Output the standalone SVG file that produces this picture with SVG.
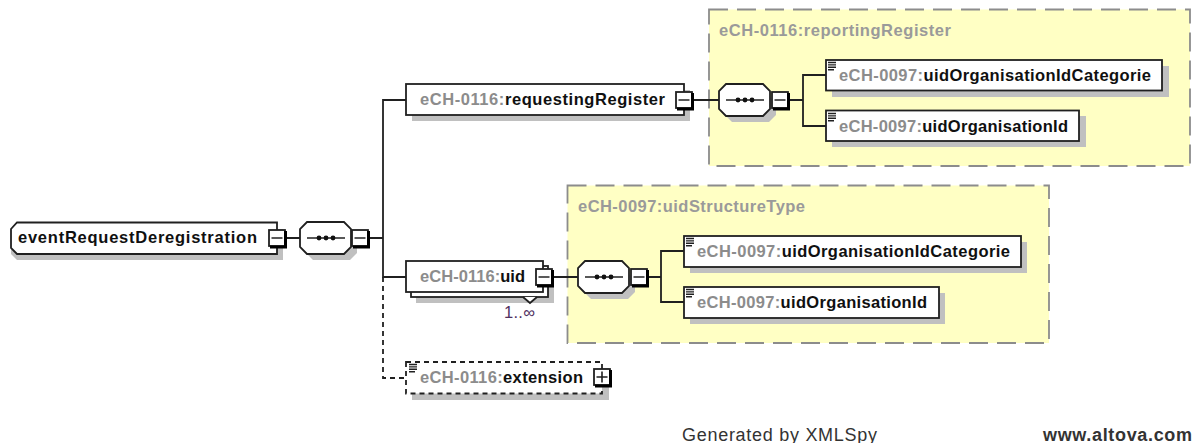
<svg xmlns="http://www.w3.org/2000/svg" width="1197" height="443" viewBox="0 0 1197 443">
<style>
text{font-family:"Liberation Sans",Arial,sans-serif;font-size:16.500px;font-weight:700;fill:#101010}
.ns{fill:#8c8c8c}
.tn{fill:#9a9a9a}
.foot{fill:#333;font-size:18px}
.sh{fill:#c0c0c0}
.n{fill:#fff;stroke:#202020;stroke-width:1.800}
.d{fill:#fff;stroke:#202020;stroke-width:1.800;stroke-dasharray:5 4}
.y{fill:#ffffc4;stroke:#8c8c8c;stroke-width:1.800;stroke-dasharray:19 9}
.c{fill:none;stroke:#202020;stroke-width:1.800}
.cd{fill:none;stroke:#202020;stroke-width:1.800;stroke-dasharray:5 4}
.ln{fill:none;stroke:#202020;stroke-width:1.400}
</style>
<defs>
<g id="minus"><rect x="-1" y="0" width="16" height="16" fill="#fff" stroke="#202020" stroke-width="1.800"/><path d="M15.500 1V17H0" fill="none" stroke="#000" stroke-width="3"/><path d="M1.500 8h11" stroke="#303030" stroke-width="1.600"/></g>
<g id="plus"><rect x="-1" y="0" width="16" height="16" fill="#fff" stroke="#202020" stroke-width="1.800"/><path d="M15.500 1V17H0" fill="none" stroke="#000" stroke-width="3"/><path d="M1.500 8h11M7 2.500v11" stroke="#202020" stroke-width="1.600"/></g>
<g id="seq"><path class="sh" d="M7 6H44L51 13V25L44 32H7L0 25V13Z" transform="translate(6 6)"/><path class="n" d="M7 0H44L51 7V25L44 32H7L0 25V7Z"/><path d="M7 16H45" stroke="#202020" stroke-width="1.600"/><circle cx="19" cy="16" r="2.400" fill="#101010"/><circle cx="26" cy="16" r="2.400" fill="#101010"/><circle cx="33" cy="16" r="2.400" fill="#101010"/></g>
<path id="list" class="ln" d="M0 .5h8M0 2.900h8M0 5.300h8M0 7.700h6"/>
</defs>

<g id="type-reportingRegister"><rect class="y" x="709" y="9.500" width="481" height="156.500"/><text class="tn" x="719" y="36" textLength="232">eCH-0116:reportingRegister</text></g>
<g id="type-uidStructureType"><rect class="y" x="567.500" y="185.500" width="481.500" height="157.500"/><text class="tn" x="578" y="212" textLength="227">eCH-0097:uidStructureType</text></g>

<g id="connectors">
<path class="c" d="M286 238H300M369 238H383M383 238V100H406M383 238V277H406"/>
<path class="cd" d="M383 277V378H406"/>
<path class="c" d="M693 100H719M789 100H803M826 75H803V126H826"/>
<path class="c" d="M553 277H578M647 277H661M684 251H661V302H684"/>
</g>

<g id="eventRequestDeregistration">
<path class="sh" d="M17 229H283V260H17L11 254V235Z"/>
<path class="n" d="M17 222.500H277V254H17L11 248V229Z"/>
<text x="18" y="243" textLength="239">eventRequestDeregistration</text>
<use href="#minus" x="270" y="230"/>
</g>
<g id="seq-root"><use href="#seq" x="300" y="222"/><use href="#minus" x="353" y="230"/></g>

<g id="requestingRegister">
<rect class="sh" x="412" y="90" width="278" height="31"/>
<rect class="n" x="406" y="84" width="278" height="31"/>
<text x="420" y="105" textLength="245"><tspan class="ns">eCH-0116:</tspan>requestingRegister</text>
<use href="#minus" x="677" y="92"/>
</g>
<g id="seq-requestingRegister"><use href="#seq" x="719" y="84"/><use href="#minus" x="773" y="92"/></g>
<g id="rr-uidOrganisationIdCategorie">
<rect class="sh" x="832" y="66" width="337" height="31"/>
<rect class="n" x="826" y="60" width="336" height="30.500"/>
<use href="#list" x="828" y="62"/>
<text x="839" y="81" textLength="312"><tspan class="ns">eCH-0097:</tspan>uidOrganisationIdCategorie</text>
</g>
<g id="rr-uidOrganisationId">
<rect class="sh" x="832" y="116" width="254" height="31"/>
<rect class="n" x="826" y="110.500" width="253" height="30.500"/>
<use href="#list" x="828" y="113"/>
<text x="839" y="132" textLength="229"><tspan class="ns">eCH-0097:</tspan>uidOrganisationId</text>
</g>

<g id="uid">
<rect class="sh" x="416" y="271" width="138" height="32"/>
<rect class="n" x="411" y="266" width="137" height="31"/>
<rect class="n" x="406" y="261" width="137" height="31"/>
<path class="n" d="M523 297L530 303L537 297" style="fill:#fff"/>
<text x="420" y="282" textLength="105"><tspan class="ns">eCH-0116:</tspan>uid</text>
<use href="#minus" x="537" y="269"/>
<text x="504" y="318" textLength="31" style="font-weight:400;fill:#503060">1..∞</text>
</g>
<g id="seq-uid"><use href="#seq" x="578" y="261"/><use href="#minus" x="632" y="269"/></g>
<g id="uid-uidOrganisationIdCategorie">
<rect class="sh" x="690" y="242" width="337" height="31"/>
<rect class="n" x="684" y="236" width="337" height="31"/>
<use href="#list" x="686" y="238"/>
<text x="697" y="257" textLength="313"><tspan class="ns">eCH-0097:</tspan>uidOrganisationIdCategorie</text>
</g>
<g id="uid-uidOrganisationId">
<rect class="sh" x="690" y="293" width="255" height="31"/>
<rect class="n" x="684" y="287" width="255" height="31"/>
<use href="#list" x="686" y="289"/>
<text x="697" y="308" textLength="230"><tspan class="ns">eCH-0097:</tspan>uidOrganisationId</text>
</g>

<g id="extension">
<rect class="sh" x="412" y="368" width="197" height="32"/>
<rect class="d" x="406" y="362" width="196" height="31.500"/>
<use href="#list" x="409" y="364"/>
<text x="420" y="383" textLength="163"><tspan class="ns">eCH-0116:</tspan>extension</text>
<use href="#plus" x="595" y="369"/>
</g>

<g id="footer">
<text class="foot" x="682" y="441" textLength="195" style="font-weight:400">Generated by XMLSpy</text>
<text class="foot" x="1043" y="441" textLength="149">www.altova.com</text>
</g>
</svg>
